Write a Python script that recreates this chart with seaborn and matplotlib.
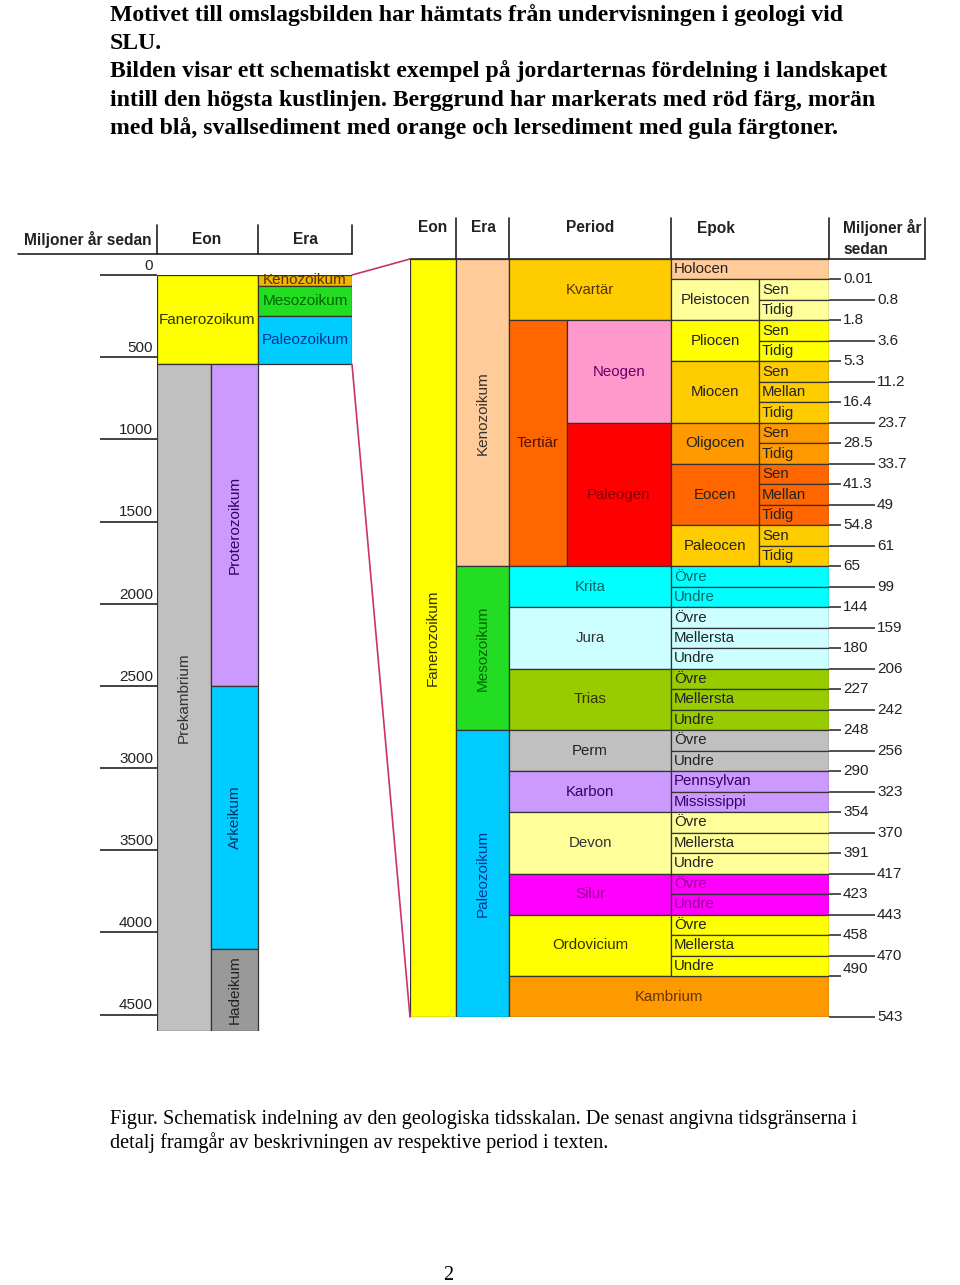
import numpy as np
import pandas as pd
import seaborn as sns
import matplotlib.pyplot as plt
from matplotlib.patches import ConnectionPatch

sns.set_theme(style="white")
plt.rcParams["font.family"] = ["Liberation Sans", "DejaVu Sans"]

# ---- left panel: whole earth history (million years ago) ----
scale_ticks = [0, 500, 1000, 1500, 2000, 2500, 3000, 3500, 4000, 4500]

eon_names = ["Fanerozoikum", "Prekambrium"]
eon_start = [0, 543]
eon_end = [543, 4600]
eon_colors = ["#FFFF00", "#C0C0C0"]
eon_text = ["#333300", "#333333"]

precam_names = ["Proterozoikum", "Arkeikum", "Hadeikum"]
precam_start = [543, 2500, 4100]
precam_end = [2500, 4100, 4600]
precam_colors = ["#CC99FF", "#00CCFF", "#999999"]
precam_text = ["#330066", "#003366", "#222222"]

era_names = ["Kenozoikum", "Mesozoikum", "Paleozoikum"]
era_start = [0, 65, 248]
era_end = [65, 248, 543]
era_colors_left = ["#F2B600", "#22DD22", "#00CCFF"]
era_text_left = ["#553300", "#006600", "#003399"]

# ---- right panel: one row per sub-epoch (37 rows) ----
n_rows = 37
era_rows_start = [0, 15, 23]
era_rows_end = [15, 23, 37]
era_colors_right = ["#FFCC99", "#22DD22", "#00CCFF"]
era_text_right = ["#333333", "#006600", "#003399"]

period_names = ["Kvartär", "Tertiär", "Neogen", "Paleogen", "Krita", "Jura", "Trias",
                "Perm", "Karbon", "Devon", "Silur", "Ordovicium", "Kambrium"]
period_start = [0, 3, 3, 8, 15, 17, 20, 23, 25, 27, 30, 32, 35]
period_end = [3, 15, 8, 15, 17, 20, 23, 25, 27, 30, 32, 35, 37]
period_span = ["full", "left", "right", "right", "full", "full", "full",
               "full", "full", "full", "full", "full", "wide"]
period_colors = ["#FFCC00", "#FF6600", "#FF99CC", "#FF0000", "#00FFFF", "#CCFFFF", "#99CC00",
                 "#C0C0C0", "#CC99FF", "#FFFF99", "#FF00FF", "#FFFF00", "#FF9900"]
period_text = ["#553300", "#551100", "#660066", "#880000", "#006666", "#333333", "#333300",
               "#222222", "#330066", "#333333", "#990099", "#333300", "#663300"]

epoch_names = ["Holocen", "Pleistocen", "Pliocen", "Miocen", "Oligocen", "Eocen", "Paleocen"]
epoch_start = [0, 1, 3, 5, 8, 10, 13]
epoch_end = [1, 3, 5, 8, 10, 13, 15]
epoch_colors = ["#FFCC99", "#FFFF99", "#FFFF00", "#FFCC00", "#FF9900", "#FF6600", "#FFCC00"]

sub_names = ["Sen", "Tidig", "Sen", "Tidig", "Sen", "Mellan", "Tidig", "Sen", "Tidig",
             "Sen", "Mellan", "Tidig", "Sen", "Tidig",
             "Övre", "Undre", "Övre", "Mellersta", "Undre", "Övre", "Mellersta", "Undre",
             "Övre", "Undre", "Pennsylvan", "Mississippi", "Övre", "Mellersta", "Undre",
             "Övre", "Undre", "Övre", "Mellersta", "Undre"]
sub_first_row = 1

boundary_labels = ["0.01", "0.8", "1.8", "3.6", "5.3", "11.2", "16.4", "23.7", "28.5", "33.7",
                   "41.3", "49", "54.8", "61", "65", "99", "144", "159", "180", "206",
                   "227", "242", "248", "256", "290", "323", "354", "370", "391", "417",
                   "423", "443", "458", "470", "490", "543"]
boundary_rows = list(range(1, 36)) + [37]

title_lines = [
    "Motivet till omslagsbilden har hämtats från undervisningen i geologi vid",
    "SLU.",
    "Bilden visar ett schematiskt exempel på jordarternas fördelning i landskapet",
    "intill den högsta kustlinjen. Berggrund har markerats med röd färg, morän",
    "med blå, svallsediment med orange och lersediment med gula färgtoner.",
]
caption_lines = [
    "Figur. Schematisk indelning av den geologiska tidsskalan. De senast angivna tidsgränserna i",
    "detalj framgår av beskrivningen av respektive period i texten.",
]

W, H = 960, 1285
fig = plt.figure(figsize=(W / 100, H / 100), dpi=100)


def px_axes(x0, y0, x1, y1, **kw):
    return fig.add_axes([x0 / W, 1 - y1 / H, (x1 - x0) / W, (y1 - y0) / H], **kw)


EDGE = "#333333"


def cell(ax, x0, x1, r0, r1, color, label, tcolor, rotation=0, ha="center", size=10.8):
    bars = ax.bar((x0 + x1) / 2, r1 - r0, bottom=r0, width=x1 - x0, color=color,
                  edgecolor=EDGE, linewidth=0.9)
    tx = (x0 + x1) / 2 if ha == "center" else x0 + 3
    t = ax.text(tx, (r0 + r1) / 2, label, ha=ha, va="center", rotation=rotation,
                color=tcolor, fontsize=size)
    t.set_clip_path(bars.patches[0])
    return t


# page layer
page = fig.add_axes([0, 0, 1, 1])
page.set_xlim(0, W)
page.set_ylim(H, 0)
page.axis("off")

for i, line in enumerate(title_lines):
    page.text(110, 21 + 28.2 * i, line, family="Liberation Serif", weight="bold",
              fontsize=17.1, va="baseline", color="black")
for i, line in enumerate(caption_lines):
    page.text(110, 1124 + 24 * i, line, family="Liberation Serif", fontsize=14.6,
              va="baseline", color="black")
page.text(448, 1280, "2", family="Liberation Serif", fontsize=14.6, ha="center",
          va="baseline", color="black")

# left headers
page.text(88, 239, "Miljoner år sedan", ha="center", va="center", weight="bold", fontsize=11.2, color="#222")
page.text(207, 239, "Eon", ha="center", va="center", weight="bold", fontsize=11.2, color="#222")
page.text(305, 239, "Era", ha="center", va="center", weight="bold", fontsize=11.2, color="#222")
page.plot([18, 352], [254, 254], color="#222", lw=1.2)
for x in [157, 258, 352]:
    page.plot([x, x], [225, 254], color="#222", lw=1.2)

# right headers
for x, s in [(433, "Eon"), (483, "Era"), (590, "Period"), (716, "Epok")]:
    page.text(x, 228, s, ha="center", va="center", weight="bold", fontsize=11.2, color="#222")
page.text(843, 228, "Miljoner år", ha="left", va="center", weight="bold", fontsize=11.2, color="#222")
page.text(843, 249, "sedan", ha="left", va="center", weight="bold", fontsize=11.2, color="#222")
page.plot([410, 925], [259, 259], color="#222", lw=1.2)
for x in [456, 509, 671, 829, 925]:
    page.plot([x, x], [218, 259], color="#222", lw=1.2)

# ---- left panel ----
axl = px_axes(157, 275, 352, 1031)
axl.set_xlim(157, 352)
axl.set_ylim(4600, 0)
axl.axis("off")

cell(axl, 157, 258, eon_start[0], eon_end[0], eon_colors[0], eon_names[0], eon_text[0], size=11)
cell(axl, 157, 211, eon_start[1], eon_end[1], eon_colors[1], eon_names[1], eon_text[1], rotation=90, size=11)
for n, a, b, c, tc in zip(precam_names, precam_start, precam_end, precam_colors, precam_text):
    cell(axl, 211, 258, a, b, c, n, tc, rotation=90, size=11)
for n, a, b, c, tc in zip(era_names, era_start, era_end, era_colors_left, era_text_left):
    cell(axl, 258, 352, a, b, c, n, tc, size=11)

axl.hlines(scale_ticks, 100, 157, color="#222", lw=1.2, clip_on=False)
for t in scale_ticks:
    axl.annotate(str(t), (153, t), xytext=(0, 1.5), textcoords="offset points",
                 ha="right", va="bottom", fontsize=11, color="#222", annotation_clip=False)

# ---- right panel ----
axr = px_axes(410, 259, 829, 1017)
axr.set_xlim(410, 829)
axr.set_ylim(n_rows, 0)
axr.axis("off")

cell(axr, 410, 456, 0, n_rows, "#FFFF00", "Fanerozoikum", "#333300", rotation=90, size=11)
for n, a, b, c, tc in zip(era_names, era_rows_start, era_rows_end, era_colors_right, era_text_right):
    cell(axr, 456, 509, a, b, c, n, tc, rotation=90, size=11)

span_x = {"full": (509, 671), "left": (509, 567), "right": (567, 671), "wide": (509, 829)}
for n, a, b, sp, c, tc in zip(period_names, period_start, period_end, period_span,
                              period_colors, period_text):
    x0, x1 = span_x[sp]
    cell(axr, x0, x1, a, b, c, n, tc)

for n, a, b, c in zip(epoch_names, epoch_start, epoch_end, epoch_colors):
    if n == "Holocen":
        cell(axr, 671, 829, a, b, c, n, "#222", ha="left")
    else:
        cell(axr, 671, 759, a, b, c, n, "#222")

for i, n in enumerate(sub_names):
    r = sub_first_row + i
    if r < 15:
        k = [j for j in range(len(epoch_names)) if epoch_start[j] <= r < epoch_end[j]][0]
        cell(axr, 759, 829, r, r + 1, epoch_colors[k], n, "#222", ha="left")
    else:
        k = [j for j in range(len(period_names)) if period_start[j] <= r < period_end[j]][0]
        tc = period_text[k] if period_names[k] in ("Krita", "Silur", "Karbon") else "#222"
        cell(axr, 671, 829, r, r + 1, period_colors[k], n, tc, ha="left")

for i, (lab, r) in enumerate(zip(boundary_labels, boundary_rows)):
    x_end = 841 if i % 2 == 0 else 875
    axr.hlines(r, 829, x_end, color="#222", lw=1.1, clip_on=False)
    # the last short label sits a little above its line in the original
    va = "bottom" if lab == "490" else "center"
    axr.text(x_end + 2, r, lab, ha="left", va=va, fontsize=11, color="#222", clip_on=False)

# pink connectors from the Phanerozoic in the overview to the detailed table
for ya, yb in [(0, 0), (543, n_rows)]:
    con = ConnectionPatch(xyA=(352, ya), coordsA=axl.transData, xyB=(410, yb),
                          coordsB=axr.transData, color="#CC3366", lw=1.2)
    fig.add_artist(con)

fig.savefig("out.png", dpi=100)
